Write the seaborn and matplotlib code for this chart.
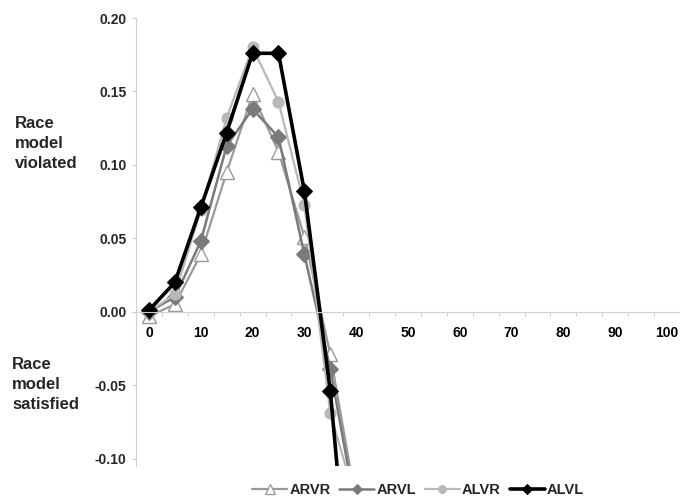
import numpy as np
import pandas as pd
import matplotlib
matplotlib.use('Agg')
import matplotlib.pyplot as plt
import seaborn as sns

# race model difference (CDF redundant - sum of singles) per percentile
percentiles = [0, 5, 10, 15, 20, 25, 30, 35, 40]
arvr = [-0.003, 0.005, 0.039, 0.095, 0.148, 0.109, 0.051, -0.029, -0.130]
arvl = [0.000, 0.010, 0.048, 0.113, 0.138, 0.119, 0.039, -0.039, -0.136]
alvr = [0.000, 0.012, 0.069, 0.132, 0.180, 0.143, 0.073, -0.069, -0.130]
alvl = [0.001, 0.020, 0.071, 0.122, 0.176, 0.176, 0.082, -0.054, -0.250]
series_names = ['ARVR', 'ARVL', 'ALVR', 'ALVL']
x_labels = list(range(0, 101, 10))
y_ticks = [-0.10, -0.05, 0.00, 0.05, 0.10, 0.15, 0.20]

sns.set_style('white')
plt.rcParams['font.family'] = ['Liberation Sans', 'DejaVu Sans']
plt.rcParams['font.weight'] = 'bold'

styles = {
    'ARVR': dict(color='#9a9a9a', marker='^', markersize=10, markerfacecolor='white',
                 markeredgecolor='#9a9a9a', markeredgewidth=1.0, linewidth=1.6),
    'ARVL': dict(color='#7a7a7a', marker='D', markersize=8, markerfacecolor='#7a7a7a',
                 markeredgecolor='#7a7a7a', linewidth=1.8),
    'ALVR': dict(color='#b8b8b8', marker='o', markersize=8, markerfacecolor='#b8b8b8',
                 markeredgecolor='#b8b8b8', linewidth=1.6),
    'ALVL': dict(color='black', marker='D', markersize=8, markerfacecolor='black',
                 markeredgecolor='black', linewidth=2.6),
}

df = pd.DataFrame({'pct': percentiles, 'ARVR': arvr, 'ARVL': arvl, 'ALVR': alvr, 'ALVL': alvl})

fig = plt.figure(figsize=(6.8, 5.01), dpi=100)
ax = fig.add_axes([0.2, 0.07, 0.8, 0.894])

for name in series_names:
    sns.lineplot(data=df, x='pct', y=name, ax=ax, label=name, legend=False, **styles[name])

ax.set_xlim(-2.5, 102.5)
ax.set_ylim(-0.105, 0.2)
ax.set_xlabel('')
ax.set_ylabel('')

# axis at zero, like the original spreadsheet chart
for s in ['top', 'right']:
    ax.spines[s].set_visible(False)
ax.spines['bottom'].set_position(('data', 0))
ax.spines['bottom'].set_color('#d0d0d0')
ax.spines['left'].set_color('#d0d0d0')
ax.spines['left'].set_linewidth(0.8)
ax.spines['bottom'].set_linewidth(0.8)

ax.set_xticks(x_labels)
ax.set_xticklabels([str(v) for v in x_labels], fontsize=10, fontweight='bold')
ax.set_xticks(np.arange(2.5, 100, 5), minor=True)
ax.tick_params(axis='x', which='major', length=0, pad=10, colors='black')
ax.tick_params(axis='x', which='minor', length=3, color='#c8c8c8', direction='out', bottom=True)

ax.set_yticks(y_ticks)
ax.set_yticklabels(['%.2f' % v for v in y_ticks], fontsize=10, fontweight='bold')
ax.tick_params(axis='y', which='major', length=3, color='#c8c8c8', direction='out', pad=4, left=True)

fig.text(0.022, 0.714, 'Race\nmodel\nviolated', fontsize=12, fontweight='bold',
         va='center', ha='left', linespacing=1.42)
fig.text(0.018, 0.232, 'Race\nmodel\nsatisfied', fontsize=12, fontweight='bold',
         va='center', ha='left', linespacing=1.42)

handles, labels = ax.get_legend_handles_labels()
fig.legend(handles, labels, loc='center', bbox_to_anchor=(0.615, 0.022), ncol=4,
           frameon=False, handlelength=2.4, handletextpad=0.15,
           columnspacing=0.6, markerscale=0.7, prop={'weight': 'bold', 'size': 10.5})

fig.savefig('out.png', dpi=100)
